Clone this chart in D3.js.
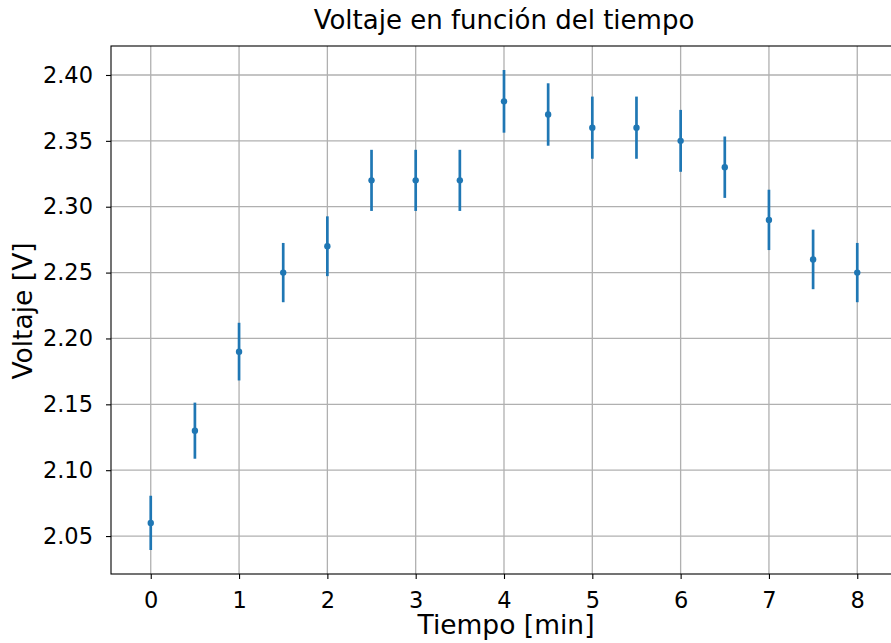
<!DOCTYPE html>
<html lang="en">
  <head>
    <meta charset="UTF-8" />
    <title>Voltaje en función del tiempo</title>
    <script src="https://cdnjs.cloudflare.com/ajax/libs/d3/7.8.5/d3.min.js"></script>
    <style>
      body {
        margin: 0;
        background: #fff;
        font-family: "DejaVu Sans", sans-serif;
      }
      svg {
        display: block;
      }
      .grid line {
        stroke: #b0b0b0;
        stroke-width: 1.3px;
      }
    </style>
  </head>
  <body>
    <div id="chart"></div>
    <script>
      // data
      const tiempo = [0, 0.5, 1, 1.5, 2, 2.5, 3, 3.5, 4, 4.5, 5, 5.5, 6, 6.5, 7, 7.5, 8];
      const voltaje = [2.06, 2.13, 2.19, 2.25, 2.27, 2.32, 2.32, 2.32, 2.38, 2.37, 2.36, 2.36, 2.35, 2.33, 2.29, 2.26, 2.25];
      const errores = [0.0206, 0.0213, 0.0219, 0.0225, 0.0227, 0.0232, 0.0232, 0.0232, 0.0238, 0.0237, 0.0236, 0.0236, 0.0235, 0.0233, 0.0229, 0.0226, 0.0225];
      const xTicks = [0, 1, 2, 3, 4, 5, 6, 7, 8];
      const yTicks = [2.05, 2.1, 2.15, 2.2, 2.25, 2.3, 2.35, 2.4];

      const width = 891;
      const height = 643;
      const margin = { top: 46, right: -6, bottom: 69, left: 111 };

      const svg = d3
        .select("#chart")
        .append("svg")
        .attr("width", width)
        .attr("height", height);

      const x = d3
        .scaleLinear()
        .domain([-0.45, 8.45])
        .range([margin.left, width - margin.right]);
      const y = d3
        .scaleLinear()
        .domain([2.0212, 2.422])
        .range([height - margin.bottom, margin.top]);

      const plotW = width - margin.right - margin.left;
      const plotH = height - margin.bottom - margin.top;

      // grid
      svg
        .append("g")
        .attr("class", "grid")
        .selectAll("line.v")
        .data(xTicks)
        .enter()
        .append("line")
        .attr("x1", (d) => x(d))
        .attr("x2", (d) => x(d))
        .attr("y1", margin.top)
        .attr("y2", height - margin.bottom);
      svg
        .append("g")
        .attr("class", "grid")
        .selectAll("line.h")
        .data(yTicks)
        .enter()
        .append("line")
        .attr("x1", margin.left)
        .attr("x2", width - margin.right)
        .attr("y1", (d) => y(d))
        .attr("y2", (d) => y(d));

      // axes
      const xAxis = svg
        .append("g")
        .attr("transform", `translate(0,${height - margin.bottom})`)
        .call(
          d3.axisBottom(x).tickValues(xTicks).tickFormat(d3.format("d")).tickSize(5).tickPadding(13)
        );
      const yAxis = svg
        .append("g")
        .attr("transform", `translate(${margin.left},0)`)
        .call(
          d3.axisLeft(y).tickValues(yTicks).tickFormat(d3.format(".2f")).tickSize(5).tickPadding(13)
        );
      [xAxis, yAxis].forEach((g) => {
        g.select(".domain").remove();
        g.selectAll(".tick line").attr("stroke", "#000").attr("stroke-width", 1.1);
        g.selectAll(".tick text")
          .attr("fill", "#000")
          .style("font-family", "DejaVu Sans")
          .style("font-size", "22.5px");
      });

      // spines
      svg
        .append("rect")
        .attr("x", margin.left)
        .attr("y", margin.top)
        .attr("width", plotW)
        .attr("height", plotH)
        .attr("fill", "none")
        .attr("stroke", "#000")
        .attr("stroke-width", 1.1);

      // error bars
      const pts = tiempo.map((t, i) => ({ t, v: voltaje[i], e: errores[i] }));
      svg
        .append("g")
        .selectAll("line")
        .data(pts)
        .enter()
        .append("line")
        .attr("x1", (d) => x(d.t))
        .attr("x2", (d) => x(d.t))
        .attr("y1", (d) => y(d.v - d.e))
        .attr("y2", (d) => y(d.v + d.e))
        .attr("stroke", "#1f77b4")
        .attr("stroke-width", 2.7);
      svg
        .append("g")
        .selectAll("circle")
        .data(pts)
        .enter()
        .append("circle")
        .attr("cx", (d) => x(d.t))
        .attr("cy", (d) => y(d.v))
        .attr("r", 3.2)
        .attr("fill", "#1f77b4");

      // labels
      svg
        .append("text")
        .attr("x", margin.left + plotW / 2)
        .attr("y", 29)
        .attr("text-anchor", "middle")
        .style("font-size", "26px")
        .text("Voltaje en función del tiempo");
      svg
        .append("text")
        .attr("x", margin.left + plotW / 2 + 2)
        .attr("y", 634)
        .attr("text-anchor", "middle")
        .style("font-size", "26.5px")
        .text("Tiempo [min]");
      svg
        .append("text")
        .attr("transform", `translate(32,${margin.top + plotH / 2 + 1}) rotate(-90)`)
        .attr("text-anchor", "middle")
        .style("font-size", "26.5px")
        .text("Voltaje [V]");
    </script>
  </body>
</html>
